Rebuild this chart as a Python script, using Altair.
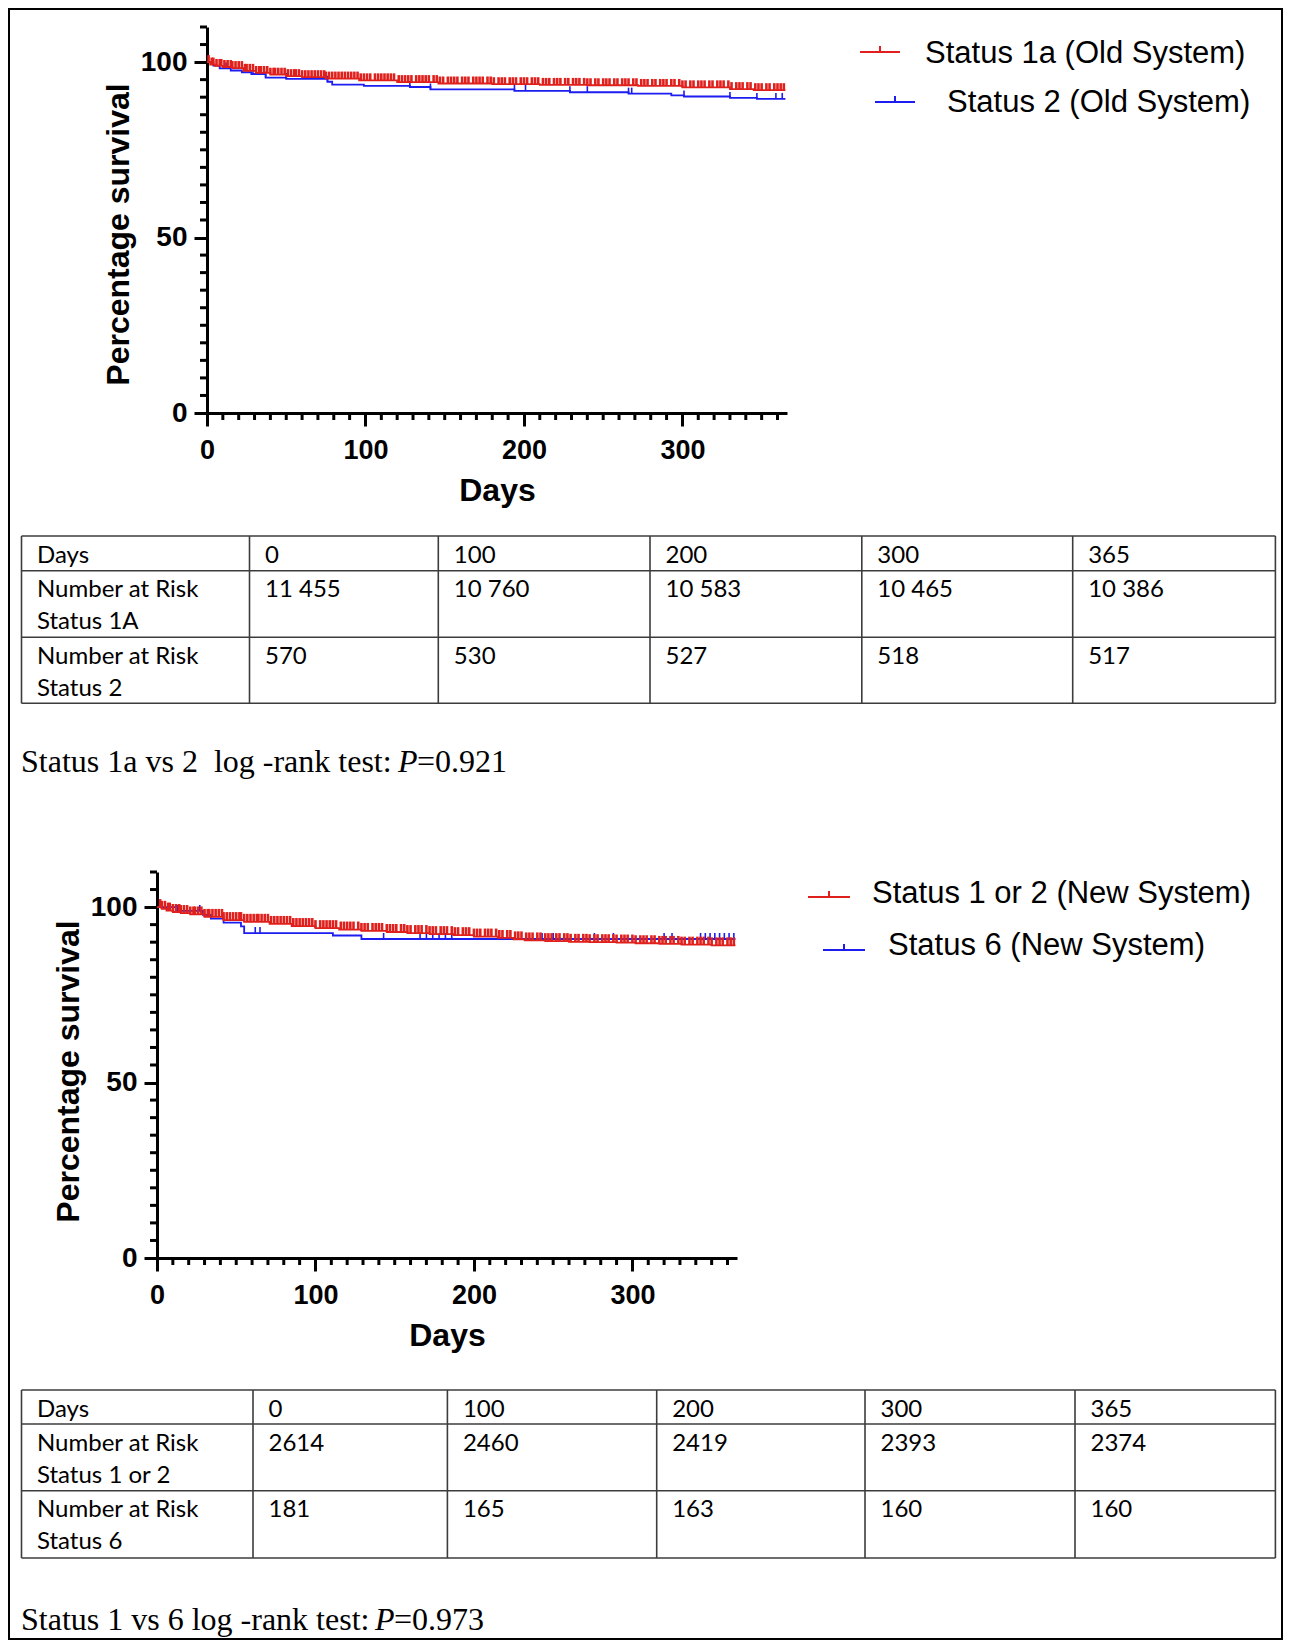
import altair as alt
import pandas as pd

# ---------------- data ----------------
# Panel 1 (old system)
p1_red_days = [0, 2, 5, 10, 16, 23, 31, 40, 50, 60, 75, 96, 120, 146, 180, 210, 240, 272, 300, 330, 345, 365]
p1_red_surv = [100, 99.3, 98.9, 98.6, 98.3, 97.5, 96.9, 96.4, 96.0, 95.7, 95.3, 94.8, 94.3, 93.9, 93.7, 93.5, 93.4, 93.2, 92.8, 92.3, 92.0, 92.0]
p1_red_cens = [1, 3, 4, 6, 8, 9, 11, 13, 15, 16, 18, 20, 22, 24, 25, 27, 29, 31, 33, 34, 36, 38, 40, 42, 43,
               45, 47, 49, 51, 53, 55, 56, 58, 60, 62, 64, 66, 68, 70, 72, 74, 75, 77, 79, 81, 83, 85, 87, 89,
               91, 93, 95, 97, 99, 101, 103, 106, 108, 110, 112, 114, 116, 118, 121, 123, 125, 127, 129, 132,
               134, 136, 138, 140, 143, 145, 147, 149, 152, 154, 156, 158, 161, 163, 165, 168, 170, 172, 174,
               177, 179, 181, 184, 186, 188, 191, 193, 195, 198, 200, 202, 205, 207, 209, 212, 214, 216, 219,
               221, 223, 226, 228, 231, 233, 235, 238, 240, 242, 245, 247, 250, 252, 254, 257, 259, 262, 264,
               266, 269, 271, 274, 276, 278, 281, 283, 286, 288, 290, 293, 295, 298, 300, 302, 305, 307, 310,
               312, 314, 317, 319, 322, 324, 326, 329, 331, 334, 336, 338, 341, 343, 346, 348, 350, 353, 355,
               358, 360, 362, 364]
p1_blue_days = [0, 4, 8, 15, 22, 28, 37, 50, 76, 79, 99, 128, 141, 194, 229, 266, 293, 301, 330, 347, 365]
p1_blue_surv = [100, 99.0, 98.2, 97.6, 97.1, 96.6, 95.6, 95.2, 94.4, 93.6, 93.2, 92.9, 92.2, 91.8, 91.4, 91.0, 90.5, 90.2, 89.8, 89.5, 89.5]
p1_blue_cens = [12, 29, 37, 50, 76, 128, 141, 194, 201, 229, 240, 266, 268, 301, 330, 347, 359, 363]
p1_legend = ["Status 1a (Old System)", "Status 2 (Old System)"]
p1_table_head = ["Days", "0", "100", "200", "300", "365"]
p1_table_red = ["Number at Risk\nStatus 1A", "11 455", "10 760", "10 583", "10 465", "10 386"]
p1_table_blue = ["Number at Risk\nStatus 2", "570", "530", "527", "518", "517"]
p1_test = ["Status 1a vs 2\u00a0\u00a0log -rank test: ", "P", "=0.921"]

# Panel 2 (new system)
p2_red_days = [0, 3, 6, 10, 15, 21, 30, 42, 55, 71, 85, 100, 115, 129, 145, 158, 172, 187, 200, 215, 225, 232,
               245, 260, 273, 290, 302, 317, 331, 350, 365]
p2_red_surv = [100, 99.5, 99.0, 98.6, 98.3, 97.9, 97.2, 96.3, 95.8, 95.2, 94.6, 94.0, 93.6, 93.2, 92.9, 92.6,
               92.3, 92.0, 91.6, 91.2, 90.8, 90.5, 90.3, 90.1, 90.0, 89.9, 89.7, 89.5, 89.3, 89.1, 89.1]
p2_red_cens = [2, 3, 5, 7, 8, 10, 12, 14, 15, 17, 19, 21, 23, 24, 26, 28, 30, 32, 33, 35, 37, 39, 41, 42, 44,
               46, 48, 50, 52, 53, 55, 57, 59, 61, 63, 64, 66, 68, 70, 72, 74, 76, 78, 80, 82, 84, 86, 88, 90,
               92, 94, 96, 98, 100, 103, 105, 107, 109, 111, 113, 116, 118, 120, 122, 124, 127, 129, 131, 133,
               136, 138, 140, 142, 145, 147, 149, 151, 154, 156, 158, 160, 163, 165, 167, 170, 172, 174, 176,
               179, 181, 183, 186, 188, 190, 193, 195, 197, 200, 202, 204, 207, 209, 211, 214, 216, 218, 221,
               223, 226, 228, 230, 233, 235, 237, 240, 242, 245, 247, 249, 252, 254, 257, 259, 261, 264, 266,
               269, 271, 273, 276, 278, 281, 283, 285, 288, 290, 293, 295, 297, 300, 302, 305, 307, 309, 312,
               314, 317, 319, 321, 324, 326, 329, 331, 333, 336, 338, 341, 343, 345, 348, 350, 353, 355, 357,
               360, 362, 364]
p2_blue_days = [0, 13, 29, 34, 42, 53, 55, 111, 129, 365]
p2_blue_surv = [100, 98.9, 97.8, 96.7, 95.6, 94.5, 92.6, 91.9, 90.9, 90.9]
p2_blue_cens = [5, 13, 27, 62, 65, 143, 166, 170, 174, 178, 182, 186, 243, 250, 276, 288, 320, 325, 343, 346,
                349, 352, 355, 358, 361, 364]
p2_legend = ["Status 1 or 2 (New System)", "Status 6 (New System)"]
p2_table_head = ["Days", "0", "100", "200", "300", "365"]
p2_table_red = ["Number at Risk\nStatus 1 or 2", "2614", "2460", "2419", "2393", "2374"]
p2_table_blue = ["Number at Risk\nStatus 6", "181", "165", "163", "160", "160"]
p2_test = ["Status 1 vs 6 log -rank test:", "P", "=0.973"]

# axis tick positions
x_major = [0, 100, 200, 300]
x_minor = [10, 20, 30, 40, 50, 60, 70, 80, 90, 110, 120, 130, 140, 150, 160, 170, 180, 190, 210, 220, 230,
           240, 250, 260, 270, 280, 290, 310, 320, 330, 340, 350, 360]
y_major = [0, 50, 100]
y_minor = [5, 10, 15, 20, 25, 30, 35, 40, 45, 55, 60, 65, 70, 75, 80, 85, 90, 95, 105, 110]

# ---------------- styling / layout ----------------
RED = "#e0201c"
BLUE = "#1d1df2"
SANS = "Liberation Sans"
TABLE_FONT = "Lato"
SERIF = "Liberation Serif"
PLOT_W, PLOT_H = 580, 386
X_DOMAIN = [0, 366]
Y_DOMAIN = [0, 110]


def step_at(days, surv, t):
    v = surv[0]
    for d, s in zip(days, surv):
        if d <= t:
            v = s
    return v


def km_panel(origin, xshift, title_y, red, blue, legend, leg_geom, table, tab_geom, test, test_geom, border=None):
    ox, oy = origin
    xscale = alt.Scale(domain=X_DOMAIN, range=[xshift, xshift + PLOT_W], nice=False, zero=False)
    yscale = alt.Scale(domain=Y_DOMAIN, nice=False)
    xaxis = alt.Axis(values=x_major, title="Days", grid=False, format="d",
                     domainColor="black", domainWidth=3, tickColor="black", tickWidth=3, tickSize=13,
                     labelFont=SANS, labelFontSize=27, labelFontWeight="bold", labelColor="black",
                     labelPadding=11, labelFlush=False,
                     titleFont=SANS, titleFontSize=32, titleFontWeight="bold", titleColor="black",
                     titlePadding=12)
    yaxis = alt.Axis(values=y_major, title="Percentage survival", grid=False, format="d",
                     offset=-xshift,
                     domainColor="black", domainWidth=3, tickColor="black", tickWidth=3, tickSize=13,
                     labelFont=SANS, labelFontSize=28, labelFontWeight="bold", labelColor="black",
                     labelPadding=7, labelFlush=False,
                     titleFont=SANS, titleFontSize=32, titleFontWeight="bold", titleColor="black",
                     titlePadding=5, titleY=title_y)

    def X(field):
        return alt.X(field, scale=xscale, axis=xaxis)

    def Y(field):
        return alt.Y(field, scale=yscale, axis=yaxis)

    layers = []
    for (days, surv, cens, color, tick_len, tick_w) in (blue, red):
        df = pd.DataFrame({"day": days, "surv": surv})
        layers.append(alt.Chart(df).mark_line(interpolate="step-after", color=color, strokeWidth=1.8).encode(
            x=X("day:Q"), y=Y("surv:Q")))
        cdf = pd.DataFrame({"day": cens, "surv": [step_at(days, surv, c) for c in cens]})
        layers.append(alt.Chart(cdf).mark_tick(orient="vertical", color=color, size=tick_len, thickness=tick_w,
                                               yOffset=-tick_len / 2, opacity=1).encode(
            x=X("day:Q"), y=Y("surv:Q")))

    # minor ticks
    layers.append(alt.Chart(pd.DataFrame({"v": x_minor})).mark_rule(color="black", strokeWidth=3).encode(
        x=X("v:Q"), y=alt.value(PLOT_H), y2=alt.value(PLOT_H + 7)))
    layers.append(alt.Chart(pd.DataFrame({"v": y_minor})).mark_rule(color="black", strokeWidth=3).encode(
        y=Y("v:Q"), x=alt.value(xshift - 7), x2=alt.value(xshift)))

    # legend
    (lx1, lx2, ly, tx, ty), (bx1, bx2, by, btx, bty) = leg_geom
    leg_lines = pd.DataFrame({"x": [lx1 - ox, bx1 - ox], "x2": [lx2 - ox, bx2 - ox],
                              "y": [ly - oy, by - oy], "c": [RED, BLUE]})
    layers.append(alt.Chart(leg_lines).mark_rule(strokeWidth=2).encode(
        x=alt.X("x:Q", scale=None, axis=None), x2="x2:Q", y=alt.Y("y:Q", scale=None, axis=None),
        color=alt.Color("c:N", scale=None)))
    leg_ticks = pd.DataFrame({"x": [(lx1 + lx2) / 2 - ox, (bx1 + bx2) / 2 - ox],
                              "y": [ly - oy, by - oy], "y2": [ly - oy - 6, by - oy - 6], "c": [RED, BLUE]})
    layers.append(alt.Chart(leg_ticks).mark_rule(strokeWidth=2).encode(
        x=alt.X("x:Q", scale=None, axis=None), y=alt.Y("y:Q", scale=None, axis=None), y2="y2:Q",
        color=alt.Color("c:N", scale=None)))
    leg_text = pd.DataFrame({"x": [tx - ox, btx - ox], "y": [ty - oy, bty - oy], "t": legend})
    layers.append(alt.Chart(leg_text).mark_text(align="left", baseline="alphabetic", font=SANS,
                                                fontSize=31, color="black").encode(
        x=alt.X("x:Q", scale=None, axis=None), y=alt.Y("y:Q", scale=None, axis=None), text="t:N"))

    # table
    cols, rows = tab_geom
    hl = pd.DataFrame({"x": [cols[0] - ox] * len(rows), "x2": [cols[-1] - ox] * len(rows),
                       "y": [r - oy for r in rows], "y2": [r - oy for r in rows]})
    vl = pd.DataFrame({"x": [c - ox for c in cols], "x2": [c - ox for c in cols],
                       "y": [rows[0] - oy] * len(cols), "y2": [rows[-1] - oy] * len(cols)})
    grid = pd.concat([hl, vl], ignore_index=True)
    layers.append(alt.Chart(grid).mark_rule(color="#3c3c3c", strokeWidth=1.6).encode(
        x=alt.X("x:Q", scale=None, axis=None), x2="x2:Q",
        y=alt.Y("y:Q", scale=None, axis=None), y2="y2:Q"))
    cells = []
    for ri, row in enumerate(table):
        for ci, txt in enumerate(row):
            cells.append({"x": cols[ci] + 15.5 - ox, "y": rows[ri] + 26.5 - oy, "t": txt})
    layers.append(alt.Chart(pd.DataFrame(cells)).mark_text(
        align="left", baseline="alphabetic", font=TABLE_FONT, fontSize=24, color="black",
        lineBreak="\n", lineHeight=32).encode(
        x=alt.X("x:Q", scale=None, axis=None), y=alt.Y("y:Q", scale=None, axis=None), text="t:N"))

    # log-rank test line
    (x0, xp, xq, yb) = test_geom
    for txt, xx, style in ((test[0], x0, "normal"), (test[1], xp, "italic"), (test[2], xq, "normal")):
        layers.append(alt.Chart(pd.DataFrame({"x": [xx - ox], "y": [yb - oy], "t": [txt]})).mark_text(
            align="left", baseline="alphabetic", font=SERIF, fontSize=32, fontStyle=style,
            color="black").encode(
            x=alt.X("x:Q", scale=None, axis=None), y=alt.Y("y:Q", scale=None, axis=None), text="t:N"))

    if border is not None:
        bx1_, by1_, bx2_, by2_ = border
        bdf = pd.DataFrame({"x": [bx1_ - ox], "y": [by1_ - oy], "x2": [bx2_ - ox], "y2": [by2_ - oy]})
        layers.append(alt.Chart(bdf).mark_rect(fillOpacity=0, stroke="black", strokeWidth=2).encode(
            x=alt.X("x:Q", scale=None, axis=None), x2="x2:Q",
            y=alt.Y("y:Q", scale=None, axis=None), y2="y2:Q"))

    return alt.layer(*layers).properties(width=xshift + PLOT_W, height=PLOT_H)


panel1 = km_panel(
    origin=(157, 27), xshift=50, title_y=207,
    red=(p1_red_days, p1_red_surv, p1_red_cens, RED, 7, 2.6),
    blue=(p1_blue_days, p1_blue_surv, p1_blue_cens, BLUE, 6, 1.6),
    legend=p1_legend,
    leg_geom=((860, 900, 52, 925, 63), (875, 915, 102, 947, 112)),
    table=[p1_table_head, p1_table_red, p1_table_blue],
    tab_geom=([21.5, 249.5, 438.3, 650, 861.8, 1072.7, 1275.4], [536, 570.7, 637.3, 703.3]),
    test=p1_test, test_geom=(21, 398, 417, 772),
    border=(9, 9, 1282, 1639),
)

panel2 = km_panel(
    origin=(157, 872), xshift=0, title_y=199,
    red=(p2_red_days, p2_red_surv, p2_red_cens, RED, 8, 2.6),
    blue=(p2_blue_days, p2_blue_surv, p2_blue_cens, BLUE, 6, 1.6),
    legend=p2_legend,
    leg_geom=((808, 850, 897, 872, 903), (823, 865, 950, 888, 955)),
    table=[p2_table_head, p2_table_red, p2_table_blue],
    tab_geom=([21.5, 253, 447.4, 656.7, 865, 1075, 1275.4], [1390, 1424, 1490.7, 1558]),
    test=p2_test, test_geom=(21, 375, 394, 1630),
)

chart = alt.vconcat(panel1, panel2, spacing=459, bounds="flush").properties(
    padding=0, background="white"
).configure_view(strokeWidth=0)

chart.save("out.html", embed_options={"renderer": "svg", "actions": False})
